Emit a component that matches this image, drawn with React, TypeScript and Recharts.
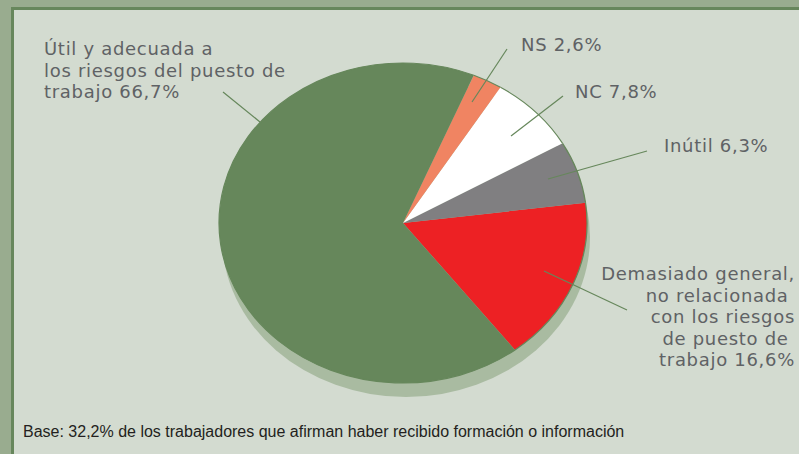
import { Cell, Pie, PieChart } from "recharts";

// encuesta: valoración de la formación recibida (%)
const categories = [
  "Demasiado general, no relacionada con los riesgos de puesto de trabajo",
  "Inútil",
  "NC",
  "NS",
  "Útil y adecuada a los riesgos del puesto de trabajo",
];
const values = [16.6, 6.3, 7.8, 2.6, 66.7];
const labelTexts = [
  ["Demasiado general,", "no relacionada ", "con los riesgos", "de puesto de ", "trabajo 16,6%"],
  ["Inútil 6,3%"],
  ["NC 7,8%"],
  ["NS 2,6%"],
  ["Útil y adecuada a", "los riesgos del puesto de", "trabajo 66,7%"],
];
const colors = ["#ed2124", "#807f81", "#ffffff", "#f08462", "#66875b"];
const footnote =
  "Base: 32,2% de los trabajadores que afirman haber recibido formación o información";

const W = 799;
const H = 454;
const CX = 403;
const CY = 223;
const RX = 184;
const RY_RATIO = 160 / 184;
const RAD = Math.PI / 180;
const LINE_H = 21.5;

const labelLayout = [
  { anchor: "end", x: 795, y: 280, from: [627, 310], to: [544, 271] },
  { anchor: "start", x: 664, y: 152, from: [647, 151], to: [548, 179] },
  { anchor: "start", x: 575, y: 98, from: [563, 96], to: [511, 136] },
  { anchor: "start", x: 521, y: 51, from: [507, 49], to: [472, 102] },
  { anchor: "start", x: 44, y: 55, from: [223, 92], to: [260, 122] },
];

const data = categories.map((name, i) => ({ name, value: values[i] }));
const shadowData = [{ name: "sombra", value: 1 }];

function EllipseSector(props: any) {
  const { cx, cy, outerRadius, startAngle, endAngle, fill } = props;
  const rx = outerRadius;
  const ry = outerRadius * RY_RATIO;
  const delta = endAngle - startAngle;
  if (Math.abs(delta) >= 359.99) {
    return <ellipse cx={cx} cy={cy} rx={rx} ry={ry} fill={fill} />;
  }
  const pt = (a: number) => [cx + rx * Math.cos(a * RAD), cy - ry * Math.sin(a * RAD)];
  const [x1, y1] = pt(startAngle);
  const [x2, y2] = pt(endAngle);
  const large = Math.abs(delta) > 180 ? 1 : 0;
  const sweep = delta > 0 ? 0 : 1;
  const arc = `M${x1},${y1} A${rx},${ry} 0 ${large} ${sweep} ${x2},${y2}`;
  return (
    <g>
      <path d={`M${cx},${cy} L${x1},${y1} A${rx},${ry} 0 ${large} ${sweep} ${x2},${y2} Z`} fill={fill} />
      <path d={arc} fill="none" stroke="#66875b" strokeWidth={1.2} />
    </g>
  );
}

function renderLabel(props: any) {
  const i = props.index;
  const lay = labelLayout[i];
  return (
    <g key={`lbl-${i}`}>
      <line x1={lay.from[0]} y1={lay.from[1]} x2={lay.to[0]} y2={lay.to[1]} stroke="#66875b" strokeWidth={1.2} />
      <text
        x={lay.x}
        y={lay.y}
        textAnchor={lay.anchor as any}
        fill="#5f6265"
        fontFamily="DejaVu Sans, Verdana, sans-serif"
        fontSize={18}
        letterSpacing={0.7}
        xmlSpace="preserve"
        style={{ whiteSpace: "pre" }}
      >
        {labelTexts[i].map((t, k) => (
          <tspan key={k} x={lay.x} y={lay.y + k * LINE_H}>
            {t}
          </tspan>
        ))}
      </text>
    </g>
  );
}

export default function App() {
  return (
    <div style={{ position: "absolute", left: 0, top: 0, width: W, height: H, background: "#99ac8f", overflow: "hidden" }}>
      <div
        style={{
          position: "absolute",
          left: 11,
          top: 7,
          width: W,
          height: H,
          background: "#d3dbd0",
          borderTop: "3px solid #67875c",
          borderLeft: "3px solid #67875c",
        }}
      />
      <div style={{ position: "absolute", left: 0, top: 0 }}>
        <PieChart width={W} height={H} margin={{ top: 0, right: 0, bottom: 0, left: 0 }}>
          <Pie
            data={shadowData}
            dataKey="value"
            cx={CX + 3}
            cy={CY + 14}
            outerRadius={RX}
            fill="#a9bba1"
            stroke="none"
            shape={EllipseSector}
            inactiveShape={EllipseSector}
            activeShape={EllipseSector}
            isAnimationActive={false}
          />
          <Pie
            data={data}
            dataKey="value"
            nameKey="name"
            cx={CX}
            cy={CY}
            outerRadius={RX}
            startAngle={-52.5}
            endAngle={307.5}
            stroke="none"
            shape={EllipseSector}
            inactiveShape={EllipseSector}
            activeShape={EllipseSector}
            label={renderLabel}
            labelLine={false}
            isAnimationActive={false}
          >
            {data.map((d, i) => (
              <Cell key={d.name} fill={colors[i]} />
            ))}
          </Pie>
        </PieChart>
      </div>
      <div
        style={{
          position: "absolute",
          left: 23,
          top: 423,
          fontFamily: "Liberation Sans, Arial, sans-serif",
          fontSize: 16,
          lineHeight: "18px",
          color: "#231f20",
          whiteSpace: "nowrap",
        }}
      >
        {footnote}
      </div>
    </div>
  );
}
